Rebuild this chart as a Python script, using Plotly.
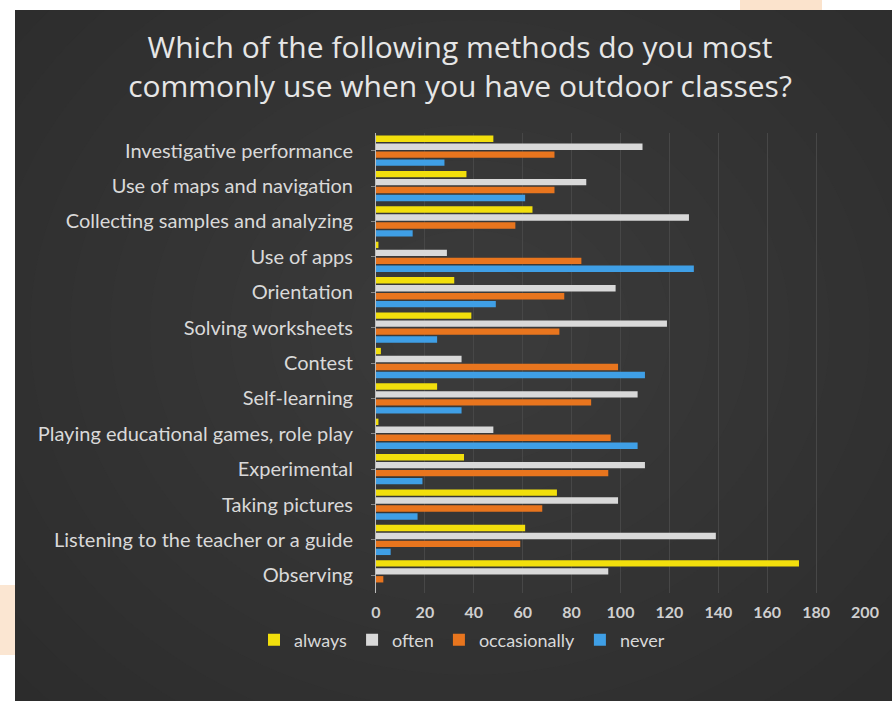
import plotly.graph_objects as go

# Survey answers: how often each outdoor-class method is used
methods = [
    "Investigative performance",
    "Use of maps and navigation",
    "Collecting samples and analyzing",
    "Use of apps",
    "Orientation",
    "Solving worksheets",
    "Contest",
    "Self-learning",
    "Playing educational games, role play",
    "Experimental",
    "Taking pictures",
    "Listening to the teacher or a guide",
    "Observing",
]
always = [48, 37, 64, 1, 32, 39, 2, 25, 1, 36, 74, 61, 173]
often = [109, 86, 128, 29, 98, 119, 35, 107, 48, 110, 99, 139, 95]
occasionally = [73, 73, 57, 84, 77, 75, 99, 88, 96, 95, 68, 59, 3]
never = [28, 61, 15, 130, 49, 25, 110, 35, 107, 19, 17, 6, 0]

x_ticks = list(range(0, 201, 20))

series = [
    ("always", always, "#f2df0c"),
    ("often", often, "#d9d9d9"),
    ("occasionally", occasionally, "#e8751e"),
    ("never", never, "#3f9fe6"),
]

W, H = 892, 701
ML, MR, MT, MB = 376, 27, 133, 108
PW, PH = W - ML - MR, H - MT - MB


def px_x(px):
    return (px - ML) / PW


def px_y(py):
    return (H - MB - py) / PH


fig = go.Figure()
for name, vals, color in series:
    fig.add_trace(go.Bar(
        y=methods, x=vals, name=name, orientation="h",
        marker=dict(color=color, line=dict(width=0)),
    ))

shapes = [
    # dark slide panel
    dict(type="rect", xref="paper", yref="paper", layer="below",
         x0=px_x(15), x1=px_x(W), y0=px_y(H), y1=px_y(10),
         fillcolor="#2c2c2c", line=dict(width=0)),
]
# soft radial brightening towards the middle of the panel
cx, cy = 470, 330
for i in range(14):
    rx = 600 - i * 40
    ry = 520 - i * 35
    shapes.append(dict(
        type="circle", xref="paper", yref="paper", layer="below",
        x0=px_x(cx - rx), x1=px_x(cx + rx),
        y0=px_y(cy + ry), y1=px_y(cy - ry),
        fillcolor="rgba(90,90,90,0.03)", line=dict(width=0),
    ))
# white border around the panel, drawn over the glow
shapes += [
    dict(type="rect", xref="paper", yref="paper", layer="below",
         x0=px_x(-300), x1=px_x(15), y0=px_y(H + 300), y1=px_y(-300),
         fillcolor="white", line=dict(width=0)),
    dict(type="rect", xref="paper", yref="paper", layer="below",
         x0=px_x(-300), x1=px_x(W + 300), y0=px_y(10), y1=px_y(-300),
         fillcolor="white", line=dict(width=0)),
    # peach decorations on the white border
    dict(type="rect", xref="paper", yref="paper", layer="below",
         x0=px_x(740), x1=px_x(822), y0=px_y(10), y1=px_y(0),
         fillcolor="#fbe3cc", line=dict(width=0)),
    dict(type="rect", xref="paper", yref="paper", layer="below",
         x0=px_x(0), x1=px_x(15), y0=px_y(655), y1=px_y(585),
         fillcolor="#fbe6d2", line=dict(width=0)),
]

fig.update_layout(
    width=W, height=H,
    margin=dict(l=ML, r=MR, t=MT, b=MB),
    paper_bgcolor="white",
    plot_bgcolor="rgba(0,0,0,0)",
    barmode="group",
    bargap=0.1,
    bargroupgap=0.2,
    shapes=shapes,
    title=dict(
        text="Which of the following methods do you most<br>commonly use when you have outdoor classes?",
        x=460 / W, xanchor="center", y=1 - 58 / H, yanchor="middle",
        yref="container",
        font=dict(family="Open Sans", size=30, color="#e6e6e6"),
    ),
    font=dict(family="Lato", color="#d9d9d9"),
    xaxis=dict(
        range=[0, 200], tickvals=x_ticks, showgrid=True,
        gridcolor="#474747", gridwidth=1, zeroline=False,
        tickfont=dict(family="Lato", size=16, color="#d0d0d0", weight="bold"),
        ticklabelstandoff=8, fixedrange=True,
    ),
    yaxis=dict(
        autorange="reversed", showline=True, linecolor="#bdbdbd", linewidth=1,
        ticks="outside", ticklen=4, tickcolor="#8a8a8a",
        tickfont=dict(family="Lato", size=20, color="#d9d9d9"),
        ticklabelstandoff=14, showgrid=False,
    ),
    legend=dict(
        orientation="h", x=px_x(462), xanchor="center",
        y=px_y(640), yanchor="middle",
        font=dict(family="Lato", size=18, color="#d9d9d9"),
        bgcolor="rgba(0,0,0,0)", itemwidth=30,
    ),
)

fig.write_html("out.html")
